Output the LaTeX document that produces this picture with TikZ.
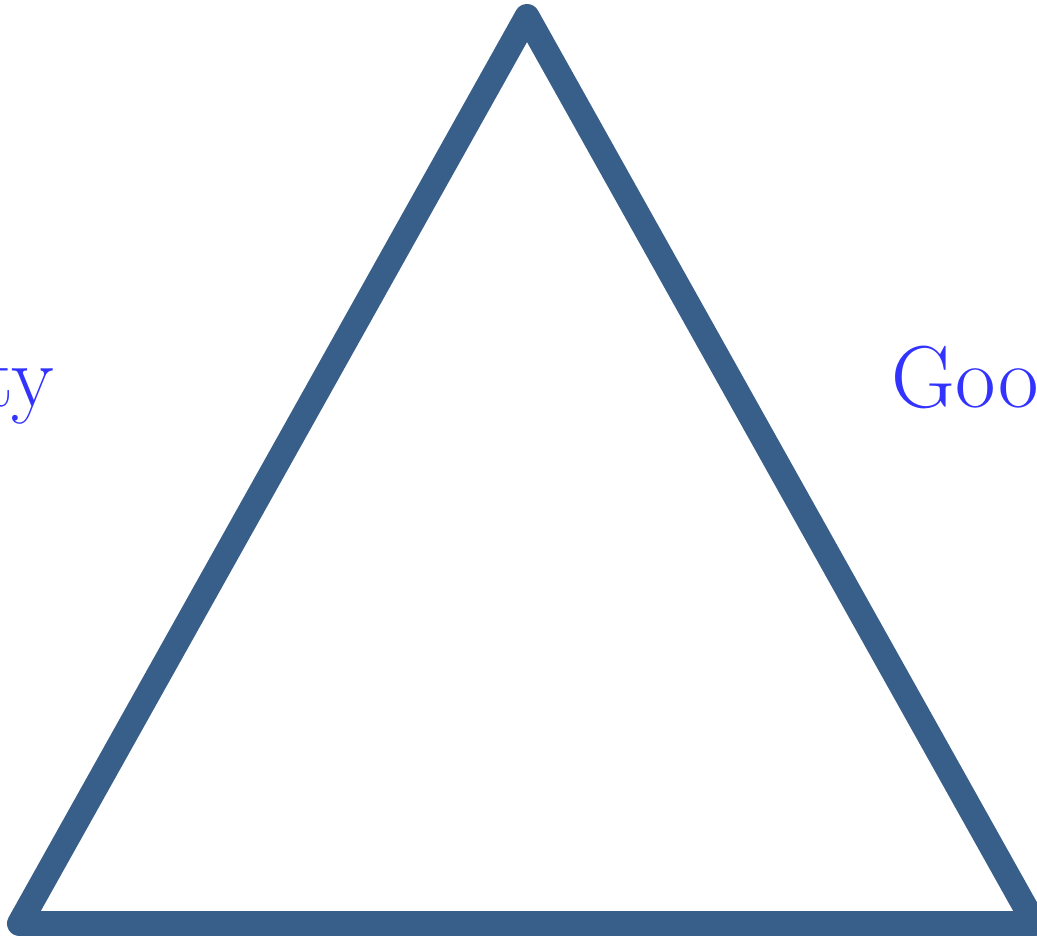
\documentclass[tikz,border=0pt]{standalone}
\definecolor{triblue}{RGB}{56,94,138}
\definecolor{labelblue}{RGB}{51,51,255}
\tikzset{
  edge/.style={draw=triblue, line width=7.1pt, line join=round, line cap=round},
  lbl/.style={text=labelblue, inner sep=0pt, font=\fontsize{25}{30}\selectfont}
}
\begin{document}
\begin{tikzpicture}[x=0.01cm, y=-0.01cm]
  \useasboundingbox (0,0) rectangle (1037,937);
  \clip (0,0) rectangle (1037,937);
  \coordinate (top) at (527,16.5);
  \coordinate (bl) at (19.5,923.5);
  \coordinate (br) at (1034.5,923.5);
  \draw[edge] (top) -- (br) -- (bl) -- cycle;
  \node[lbl, anchor=base east] (left) at (55,406) {ty};
  \node[lbl, anchor=base west] (right) at (891,407) {Goo};
\end{tikzpicture}
\end{document}
